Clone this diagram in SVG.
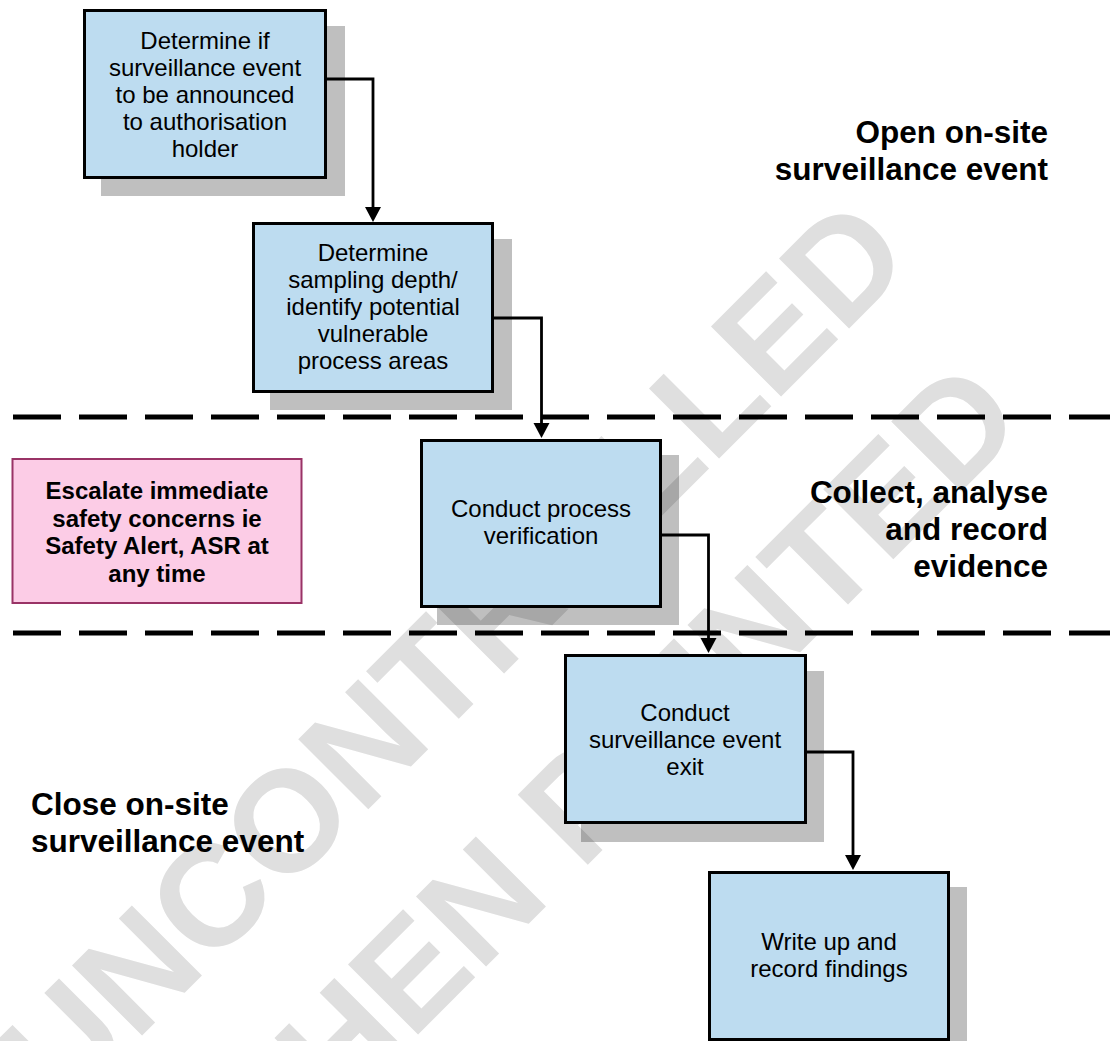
<svg xmlns="http://www.w3.org/2000/svg" width="1110" height="1041" viewBox="0 0 1110 1041">
  <style>
    .wm { font-family: "Liberation Sans", Arial, sans-serif; font-weight: bold; font-size: 144px; fill: #dfdfdf; text-anchor: middle; }
    .shadow { fill: #000000; fill-opacity: 0.25; }
    .box { fill: #bddcf0; stroke: #000000; stroke-width: 3; }
    .alert { fill: #fccce6; stroke: #993366; stroke-width: 2; }
    .t { font-family: "Liberation Sans", Arial, sans-serif; font-size: 24px; fill: #000000; text-anchor: middle; }
    .tb { font-family: "Liberation Sans", Arial, sans-serif; font-size: 24px; font-weight: bold; fill: #000000; text-anchor: middle; }
    .lane { font-family: "Liberation Sans", Arial, sans-serif; font-size: 31.5px; font-weight: bold; fill: #000000; }
    .divider { stroke: #000000; stroke-width: 5; stroke-dasharray: 48 18; fill: none; }
    .conn { stroke: #000000; stroke-width: 2.8; fill: none; stroke-linejoin: miter; }
  </style>
  <defs>
    <marker id="arrow" markerUnits="userSpaceOnUse" markerWidth="15" markerHeight="16" refX="0" refY="8" orient="auto" overflow="visible">
      <path d="M0,0 L15,8 L0,16 z" fill="#000000"/>
    </marker>
  </defs>

  <rect x="0" y="0" width="1110" height="1041" fill="#ffffff"/>

  <!-- background watermark -->
  <g id="watermark">
    <text class="wm" transform="translate(452,652) rotate(-45)" x="0" y="52">UNCONTROLLED</text>
    <text class="wm" transform="translate(598,781) rotate(-45)" x="0" y="52">WHEN PRINTED</text>
  </g>

  <!-- drop shadows -->
  <g id="shadows">
    <rect class="shadow" x="101" y="26" width="244" height="170"/>
    <rect class="shadow" x="270" y="239" width="242" height="171"/>
    <rect class="shadow" x="437" y="455" width="242" height="170"/>
    <rect class="shadow" x="581" y="671" width="243" height="171"/>
    <rect class="shadow" x="725" y="887" width="242" height="160"/>
  </g>

  <!-- phase dividers -->
  <g id="dividers">
    <line class="divider" x1="13" y1="417" x2="1110" y2="417"/>
    <line class="divider" x1="13" y1="633" x2="1110" y2="633"/>
  </g>

  <!-- phase labels -->
  <g id="lane-open">
    <text class="lane" x="1048" y="143" text-anchor="end">Open on-site</text>
    <text class="lane" x="1048" y="180" text-anchor="end">surveillance event</text>
  </g>
  <g id="lane-collect">
    <text class="lane" x="1048" y="503" text-anchor="end">Collect, analyse</text>
    <text class="lane" x="1048" y="540" text-anchor="end">and record</text>
    <text class="lane" x="1048" y="577" text-anchor="end">evidence</text>
  </g>
  <g id="lane-close">
    <text class="lane" x="31" y="815">Close on-site</text>
    <text class="lane" x="31" y="852">surveillance event</text>
  </g>

  <!-- process steps -->
  <g id="step-announce">
    <rect class="box" x="84.5" y="10.5" width="241" height="167"/>
    <text class="t" x="205" y="49">Determine if</text>
    <text class="t" x="205" y="76">surveillance event</text>
    <text class="t" x="205" y="103">to be announced</text>
    <text class="t" x="205" y="130">to authorisation</text>
    <text class="t" x="205" y="157">holder</text>
  </g>
  <g id="step-sampling">
    <rect class="box" x="253.5" y="223.5" width="239" height="168"/>
    <text class="t" x="373" y="261">Determine</text>
    <text class="t" x="373" y="288">sampling depth/</text>
    <text class="t" x="373" y="315">identify potential</text>
    <text class="t" x="373" y="342">vulnerable</text>
    <text class="t" x="373" y="369">process areas</text>
  </g>
  <g id="step-verify">
    <rect class="box" x="421.5" y="440.5" width="239" height="166"/>
    <text class="t" x="541" y="517">Conduct process</text>
    <text class="t" x="541" y="544">verification</text>
  </g>
  <g id="step-exit">
    <rect class="box" x="565.5" y="655.5" width="240" height="167"/>
    <text class="t" x="685" y="721">Conduct</text>
    <text class="t" x="685" y="748">surveillance event</text>
    <text class="t" x="685" y="775">exit</text>
  </g>
  <g id="step-findings">
    <rect class="box" x="709.5" y="872.5" width="239" height="167"/>
    <text class="t" x="829" y="950">Write up and</text>
    <text class="t" x="829" y="977">record findings</text>
  </g>

  <!-- escalation note -->
  <g id="escalate">
    <rect class="alert" x="12.5" y="459" width="289" height="144"/>
    <text class="tb" x="157" y="499">Escalate immediate</text>
    <text class="tb" x="157" y="526.5">safety concerns ie</text>
    <text class="tb" x="157" y="554">Safety Alert, ASR at</text>
    <text class="tb" x="157" y="581.5">any time</text>
  </g>

  <!-- flow connectors -->
  <g id="connectors">
    <path class="conn" d="M326,79 H373 V207" marker-end="url(#arrow)"/>
    <path class="conn" d="M493,318 H541.5 V423" marker-end="url(#arrow)"/>
    <path class="conn" d="M661,535 H708.5 V638" marker-end="url(#arrow)"/>
    <path class="conn" d="M806,752 H853 V855" marker-end="url(#arrow)"/>
  </g>
</svg>
